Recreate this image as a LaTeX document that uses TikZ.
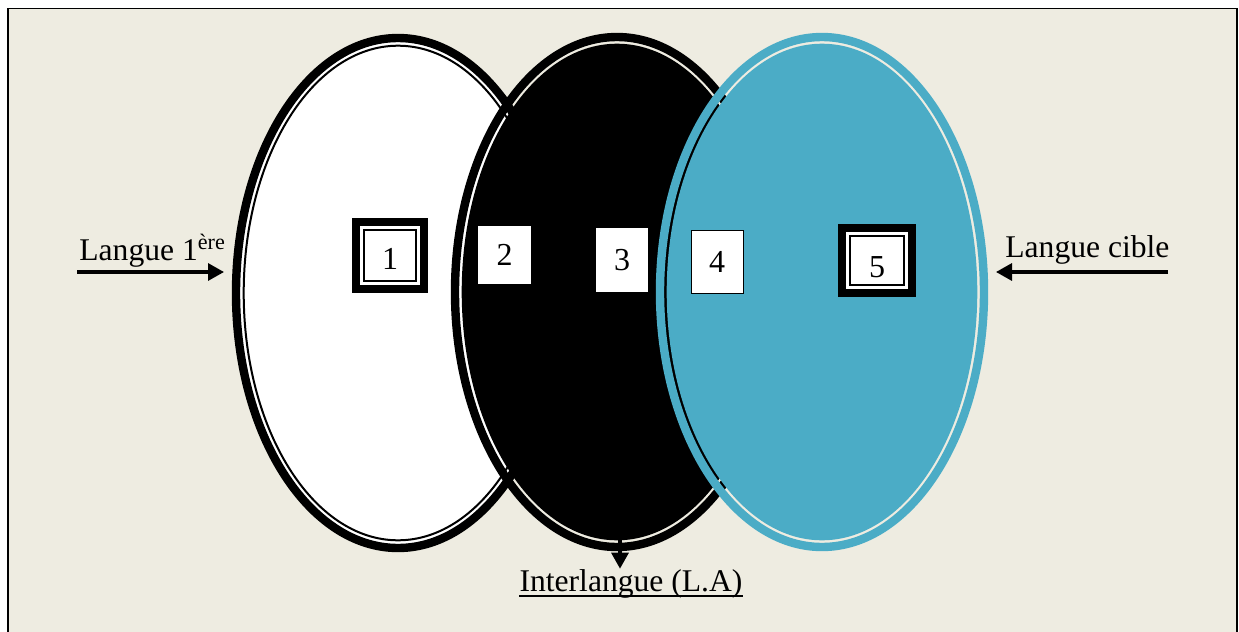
\documentclass[tikz,border=0pt]{standalone}
\usepackage{fontspec}
\setmainfont{Liberation Serif}
\usetikzlibrary{arrows.meta,positioning,calc}
\definecolor{cream}{RGB}{238,236,225}
\definecolor{aqua}{RGB}{75,172,198}
\tikzset{
  arr/.style={-{Triangle[length=8pt,width=8.5pt]},line width=1.6pt,draw=black},
  lab/.style={font=\fontsize{15.8}{19}\selectfont,inner sep=0pt},
  ring/.style={line width=4.2pt},
  numbox/.style={font=\fontsize{16}{19}\selectfont,fill=white,inner sep=0pt,outer sep=0pt},
  framebox/.style={numbox,draw=black,line width=1.15pt,
    preaction={draw=black,line width=11.85pt},preaction={draw=white,line width=3.85pt}}
}
\begin{document}
\begin{tikzpicture}[x=0.5pt,y=-0.5pt]
  \useasboundingbox (0,0) rectangle (1239,632);
  \fill[cream] (8,8) rectangle (1237,640);
  \draw[line width=0.65pt] (7,8.3) -- (1238,8.3);
  \draw[line width=1pt] (7.7,8) -- (7.7,640) (1237,8) -- (1237,640);

  % first language
  \fill[white] (398,293) ellipse (162 and 255);
  \draw[ring] (398,293) ellipse (162 and 255);
  \draw[line width=1pt] (398,293) ellipse (154.3 and 247.3);
  % interlanguage
  \draw[ring] (617,292) ellipse (162 and 255);
  \fill (617,292) ellipse (155.3 and 248.3);
  % target language
  \draw[ring,aqua] (822,292) ellipse (162 and 255);
  \fill[aqua] (822,292) ellipse (155.3 and 248.3);

  \node[framebox,minimum width=26.15pt,minimum height=25.65pt,text height=14.3pt] (b1) at (390,255.5) {1};
  \node[numbox,minimum width=26.5pt,minimum height=29pt] (b2) at (504.5,255) {2};
  \node[numbox,minimum width=26pt,minimum height=32pt] (b3) at (622,260) {3};
  \node[numbox,draw=black,line width=0.5pt,minimum width=26pt,minimum height=31.5pt] (b4) at (717,261.5) {4};
  \node[framebox,minimum width=27.15pt,minimum height=24.65pt,text height=17.3pt] (b5) at (877,260.5) {5};

  \node[lab,anchor=base west] (l1) at (79,260) {Langue 1\textsuperscript{ère}};
  \node[lab,anchor=base west] (lc) at (1005,257) {Langue cible};
  \node[lab,anchor=base] (il) at (631,591) {Interlangue (L.A)};
  \draw[line width=1pt] ([yshift=-2.25pt]il.base west) -- ([yshift=-2.25pt]il.base east);

  \coordinate (l1a) at (77,272);
  \coordinate (l1b) at (224,272);
  \coordinate (lca) at (1168,272);
  \coordinate (lcb) at (996,272);
  \coordinate (ilb) at (620,538);
  \draw[arr] (l1a) -- (l1b);
  \draw[arr] (lca) -- (lcb);
  \draw[arr] (ilb) -- (ilb |- il.north);
\end{tikzpicture}
\end{document}
